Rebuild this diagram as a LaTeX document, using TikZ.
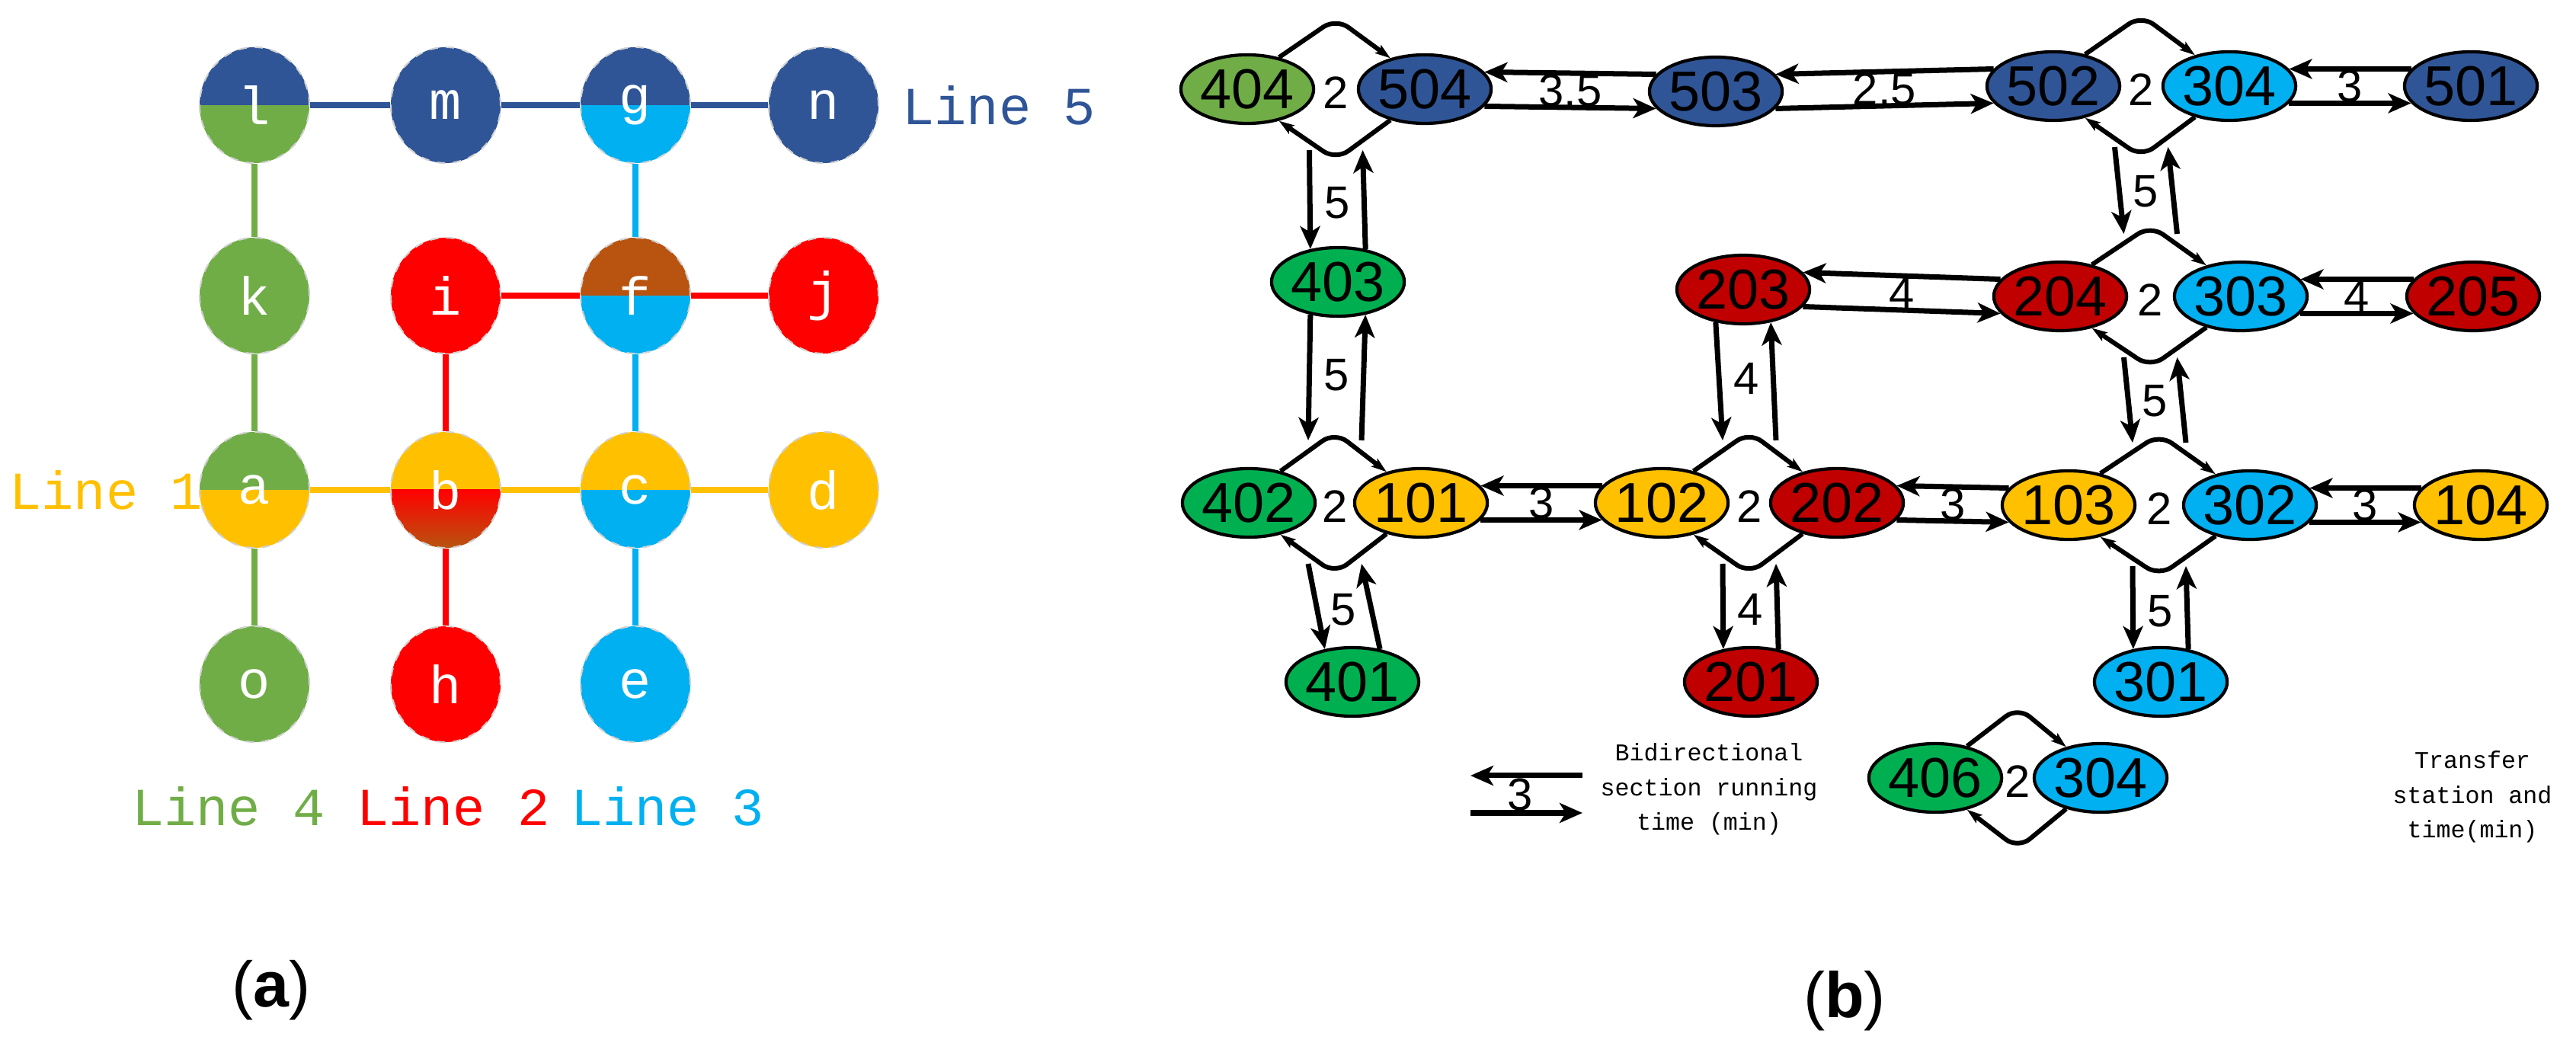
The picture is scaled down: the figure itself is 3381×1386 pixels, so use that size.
\documentclass[tikz,border=0pt]{standalone}
\usepackage{fontspec}
\setmainfont{Liberation Sans}
\newfontfamily\monof{Liberation Mono}
\usetikzlibrary{shapes.geometric,arrows.meta,calc}
\definecolor{cB}{HTML}{2F5597}
\definecolor{cG}{HTML}{70AD47}
\definecolor{cGG}{HTML}{00B050}
\definecolor{cL}{HTML}{00B0F0}
\definecolor{cR}{HTML}{FF0000}
\definecolor{cRR}{HTML}{C00000}
\definecolor{cY}{HTML}{FFC000}
\definecolor{cBr}{HTML}{B85410}
\tikzset{
 circ/.style={ellipse,minimum width=1.44cm,minimum height=1.52cm,inner sep=0,draw=gray!35,dashed,line width=0.6pt,text=white,font=\monof\fontsize{20}{22}\selectfont},
 half/.style 2 args={path picture={\fill[#1] (path picture bounding box.north west) rectangle (path picture bounding box.east);\fill[#2] (path picture bounding box.west) rectangle (path picture bounding box.south east);}},
 ln/.style={line width=0.08cm,#1},
 lbl/.style={font=\monof\fontsize{20}{22}\selectfont},
 st/.style={ellipse,minimum width=1.72cm,minimum height=0.9cm,inner sep=0,draw=black,line width=1.2pt,font=\fontsize{21}{24}\selectfont,fill=#1},
 ar/.style={line width=0.07cm,-{Stealth[length=0.3cm,width=0.26cm,inset=0.08cm]}},
 tra/.style={line width=0.06cm,rounded corners=0.2cm,-{Stealth[length=0.2cm,width=0.13cm,inset=0.04cm]}},
 num/.style={font=\fontsize{17}{20}\selectfont,inner sep=1pt},
 leg/.style={font=\monof\fontsize{9}{13}\selectfont,align=center},
}
\newcommand\xfer[3]{%
 \coordinate (#3m) at ($(#1)!0.5!(#2)$);
 \coordinate (#3t) at ($(#3m)+(0,-93)$);
 \coordinate (#3b) at ($(#3m)+(0,93)$);
 \coordinate (#3tl) at ($(#3m)+(-35,-82)$);
 \coordinate (#3tr) at ($(#3m)+(35,-82)$);
 \coordinate (#3bl) at ($(#3m)+(-35,80)$);
 \coordinate (#3br) at ($(#3m)+(35,80)$);
 \draw[tra] (#1.45) -- (#3t) -- (#2.138);
 \draw[tra] (#2.222) -- (#3b) -- (#1.315);
 \node[num] at ($(#3m)+(0,5)$) {2};
}
\newcommand\hp[3]{%
 \draw[ar] (#2.164) -- (#1.16);
 \draw[ar] (#1.344) -- (#2.196);
 \node[num] at ($(#1)!0.5!(#2)$) {#3};
}
\begin{document}
\begin{tikzpicture}[x=0.01cm,y=-0.01cm]
\useasboundingbox (0,0) rectangle (3381,1386);
% ---------- panel a
\node[circ,half={cB}{cG}] (l) at (334,138) {l};
\node[circ,fill=cB] (m) at (585,138) {m};
\node[circ,half={cB}{cL}] (g) at (834,138) {g};
\node[circ,fill=cB] (n) at (1081,138) {n};
\node[circ,fill=cG] (k) at (334,388) {k};
\node[circ,fill=cR] (i) at (585,388) {i};
\node[circ,half={cBr}{cL}] (f) at (834,388) {f};
\node[circ,fill=cR] (j) at (1081,388) {j};
\node[circ,half={cG}{cY}] (a) at (334,643) {a};
\node[circ,path picture={\fill[cY] (path picture bounding box.north west) rectangle (path picture bounding box.east);\shade[top color=cR,bottom color=cBr] (path picture bounding box.west) rectangle (path picture bounding box.south east);}] (b) at (585,643) {b};
\node[circ,half={cY}{cL}] (c) at (834,643) {c};
\node[circ,fill=cY] (d) at (1081,643) {d};
\node[circ,fill=cG] (o) at (334,898) {o};
\node[circ,fill=cR] (h) at (585,898) {h};
\node[circ,fill=cL] (e) at (834,898) {e};
\draw[ln=cB] (l)--(m) (m)--(g) (g)--(n);
\draw[ln=cG] (l)--(k) (k)--(a) (a)--(o);
\draw[ln=cR] (i)--(f) (f)--(j) (i)--(b) (b)--(h);
\draw[ln=cL] (g)--(f) (f)--(c) (c)--(e);
\draw[ln=cY] (a)--(b) (b)--(c) (c)--(d);
\node[lbl,text=cB,anchor=west] (t5) at (1172,138) {Line 5};
\node[lbl,text=cY,anchor=west] (t1) at (0,643) {Line 1};
\node[lbl,text=cG] (t4) at (300,1058) {Line 4};
\node[lbl,text=cR] (t2) at (595,1058) {Line 2};
\node[lbl,text=cL] (t3) at (876,1058) {Line 3};
\node[font=\rmfamily\fontsize{24}{28}\selectfont] (pa) at (356,1300) {(\textbf{a})};
% ---------- panel b
\node[st=cG] (n404) at (1637,117) {404};
\node[st=cB] (n504) at (1870,117) {504};
\node[st=cB] (n503) at (2252,120) {503};
\node[st=cB] (n502) at (2695,113) {502};
\node[st=cL] (n304) at (2926,113) {304};
\node[st=cB] (n501) at (3243,113) {501};
\node[st=cGG] (n403) at (1756,370) {403};
\node[st=cRR] (n203) at (2288,380) {203};
\node[st=cRR] (n204) at (2704,389) {204};
\node[st=cL] (n303) at (2941,389) {303};
\node[st=cRR] (n205) at (3246,389) {205};
\node[st=cGG] (n402) at (1639,660) {402};
\node[st=cY] (n101) at (1865,660) {101};
\node[st=cY] (n102) at (2181,660) {102};
\node[st=cRR] (n202) at (2411,660) {202};
\node[st=cY] (n103) at (2715,663) {103};
\node[st=cL] (n302) at (2953,663) {302};
\node[st=cY] (n104) at (3256,663) {104};
\node[st=cGG] (n401) at (1775,895) {401};
\node[st=cRR] (n201) at (2298,895) {201};
\node[st=cL] (n301) at (2836,895) {301};
\xfer{n404}{n504}{D1}
\xfer{n402}{n101}{D2}
\xfer{n102}{n202}{D3}
\xfer{n502}{n304}{D4}
\xfer{n204}{n303}{D5}
\xfer{n103}{n302}{D6}
\hp{n504}{n503}{3.5}
\hp{n503}{n502}{2.5}
\hp{n304}{n501}{3}
\hp{n203}{n204}{4}
\hp{n303}{n205}{4}
\hp{n101}{n102}{3}
\hp{n202}{n103}{3}
\hp{n302}{n104}{3}
% verticals
\draw[ar] (D1bl) -- (n403.130); \draw[ar] (n403.50) -- (D1br);
\node[num] at ($(D1b)!0.5!(n403.north)$) {5};
\draw[ar] (n403.230) -- (D2tl); \draw[ar] (D2tr) -- (n403.310);
\node[num] at ($(D2t)!0.5!(n403.south)$) {5};
\draw[ar] (D2bl) -- (n401.130); \draw[ar] (n401.50) -- (D2br);
\node[num] at ($(D2b)!0.5!(n401.north)$) {5};
\draw[ar] (n203.230) -- (D3tl); \draw[ar] (D3tr) -- (n203.310);
\node[num] at ($(D3t)!0.5!(n203.south)$) {4};
\draw[ar] (D3bl) -- (n201.130); \draw[ar] (n201.50) -- (D3br);
\node[num] at ($(D3b)!0.5!(n201.north)$) {4};
\draw[ar] (D4bl) -- (D5tl); \draw[ar] (D5tr) -- (D4br);
\node[num] at ($(D4b)!0.5!(D5t)$) {5};
\draw[ar] (D5bl) -- (D6tl); \draw[ar] (D6tr) -- (D5br);
\node[num] at ($(D5b)!0.5!(D6t)$) {5};
\draw[ar] (D6bl) -- (n301.130); \draw[ar] (n301.50) -- (D6br);
\node[num] at ($(D6b)!0.5!(n301.north)$) {5};
% legend
\coordinate (la) at (2077,1018); \coordinate (lb) at (1930,1018);
\coordinate (lc) at (1930,1067); \coordinate (ld) at (2077,1067);
\draw[ar] (la) -- (lb);
\draw[ar] (lc) -- (ld);
\node[num] at (1995,1043) {3};
\node[leg] (lt1) at (2243,1036) {Bidirectional\\section running\\time (min)};
\node[st=cGG] (n406) at (2540,1021) {406};
\node[st=cL] (n304b) at (2757,1021) {304};
\xfer{n406}{n304b}{D7}
\node[leg] (lt2) at (3245,1046) {Transfer\\station and\\time(min)};
\node[font=\rmfamily\fontsize{24}{28}\selectfont] (pb) at (2421,1314) {(\textbf{b})};
\end{tikzpicture}
\end{document}
